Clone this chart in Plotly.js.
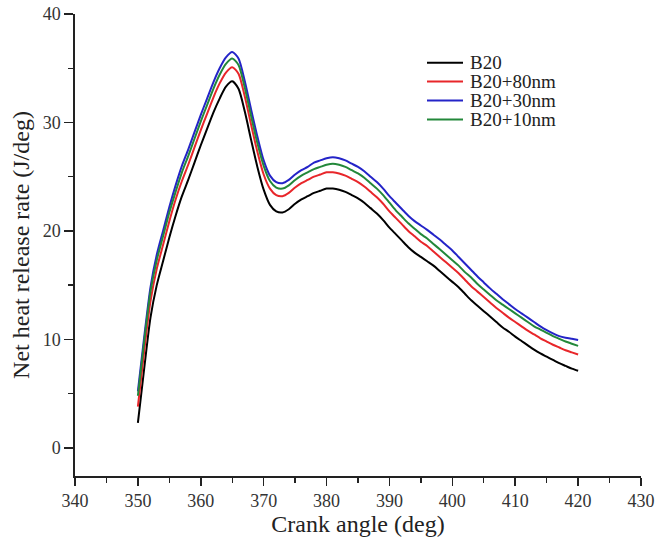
<!DOCTYPE html>
<html>
<head>
<meta charset="utf-8">
<script src="https://cdn.plot.ly/plotly-3.0.1.min.js"></script>
<style>html,body{margin:0;padding:0;background:#fff;}#chart{width:657px;height:543px;}</style>
</head>
<body>
<div id="chart"></div>
<script>
var crankAngle = [350,351,352,353,354,355,356,357,358,359,360,361,362,363,364,365,366,367,368,369,370,371,372,373,374,375,376,377,378,379,380,381,382,383,384,385,386,387,388,389,390,391,392,393,394,395,396,397,398,399,400,401,402,403,404,405,406,407,408,409,410,411,412,413,414,415,416,417,418,419,420];
var seriesNames = ["B20","B20+80nm","B20+30nm","B20+10nm"];
var b20 = [2.3,7.3,12.0,15.0,17.2,19.4,21.4,23.2,24.7,26.3,27.9,29.4,30.9,32.2,33.3,33.8,33.1,31.0,28.4,25.9,23.8,22.4,21.8,21.7,22.0,22.5,22.9,23.2,23.5,23.7,23.9,23.9,23.8,23.6,23.3,23.0,22.6,22.1,21.6,21.0,20.3,19.7,19.1,18.5,18.0,17.6,17.2,16.8,16.3,15.8,15.3,14.8,14.2,13.6,13.1,12.6,12.1,11.6,11.1,10.7,10.25,9.85,9.45,9.05,8.7,8.4,8.1,7.8,7.55,7.3,7.1];
var b20_80nm = [3.8,8.9,13.5,16.5,18.7,20.9,22.9,24.6,26.1,27.7,29.3,30.8,32.3,33.6,34.6,35.1,34.5,32.4,29.8,27.3,25.2,23.9,23.3,23.2,23.5,24.0,24.4,24.7,25.0,25.2,25.4,25.4,25.3,25.1,24.8,24.5,24.1,23.6,23.1,22.5,21.8,21.2,20.6,20.0,19.5,19.0,18.6,18.1,17.6,17.1,16.6,16.1,15.5,14.9,14.4,13.9,13.4,12.9,12.45,12.0,11.6,11.2,10.8,10.45,10.1,9.8,9.5,9.25,9.0,8.8,8.6];
var b20_30nm = [5.2,10.2,14.8,17.8,20.0,22.2,24.2,26.0,27.5,29.1,30.7,32.2,33.7,35.0,36.0,36.5,35.9,33.8,31.2,28.7,26.5,25.1,24.5,24.4,24.7,25.2,25.6,25.9,26.3,26.5,26.7,26.8,26.7,26.5,26.2,25.9,25.5,25.0,24.5,23.9,23.2,22.6,22.0,21.4,20.9,20.5,20.1,19.65,19.2,18.7,18.2,17.6,17.0,16.4,15.8,15.25,14.7,14.2,13.7,13.25,12.8,12.4,12.0,11.6,11.2,10.85,10.55,10.3,10.15,10.05,9.95];
var b20_10nm = [4.8,9.8,14.4,17.3,19.5,21.7,23.6,25.4,26.9,28.5,30.1,31.6,33.1,34.4,35.4,35.9,35.3,33.2,30.6,28.1,26.0,24.6,24.0,23.9,24.2,24.7,25.1,25.4,25.7,25.9,26.1,26.2,26.1,25.9,25.6,25.3,24.9,24.4,23.9,23.3,22.6,21.9,21.3,20.7,20.2,19.7,19.3,18.8,18.3,17.8,17.3,16.8,16.2,15.7,15.1,14.6,14.1,13.6,13.2,12.8,12.4,12.0,11.6,11.2,10.9,10.6,10.3,10.05,9.8,9.6,9.4];
var xTicks = [340,350,360,370,380,390,400,410,420,430];
var yTicks = [0,10,20,30,40];

var colors = ["#000000","#e8262a","#2424c8","#23883a"];
var ff = "Liberation Serif, Times New Roman, serif";
var ys = [b20, b20_80nm, b20_30nm, b20_10nm];
var traces = ys.map(function(y,i){
  return {x: crankAngle, y: y, type:'scatter', mode:'lines', name: seriesNames[i], showlegend:false,
    line:{color:colors[i], width:2, shape:'spline', smoothing:0.7}};
});

// plot area in pixels
var W = 657, H = 543, L = 75, R = 16, T = 14, B = 67;
function px2paperX(px){ return (px - L) / (W - L - R); }
function px2paperY(py){ return (H - B - py) / (H - B - T); }

// manual legend (Origin-style, tight rows)
var shapes = [], annotations = [];
var legTop = 62.7, legStep = 18.9, lineX0 = 427, lineX1 = 463, textX = 468;
seriesNames.forEach(function(n, i){
  var yy = px2paperY(legTop + i*legStep);
  shapes.push({type:'line', xref:'paper', yref:'paper', x0:px2paperX(lineX0), x1:px2paperX(lineX1), y0:yy, y1:yy,
    line:{color:colors[i], width:2}});
  annotations.push({xref:'paper', yref:'paper', x:px2paperX(textX), y:yy, xanchor:'left', yanchor:'middle',
    text:n, showarrow:false, font:{family:ff, size:19, color:'#222'}});
});

var layout = {
  width:W, height:H,
  margin:{l:L, r:R, t:T, b:B},
  paper_bgcolor:'#fff', plot_bgcolor:'#fff',
  font:{family:ff, size:18, color:'#222'},
  showlegend:false,
  shapes:shapes, annotations:annotations,
  xaxis:{range:[340,430], tickvals:xTicks, ticktext:xTicks.map(String), showgrid:false, zeroline:false,
    showline:true, linecolor:'#222', linewidth:1.6, ticks:'outside', ticklen:8, tickwidth:1.5, tickcolor:'#222',
    minor:{dtick:5, tick0:340, ticks:'outside', ticklen:5, tickwidth:1.3, tickcolor:'#222', showgrid:false},
    tickfont:{family:ff, size:18, color:'#333'},
    title:{text:'Crank angle (deg)', font:{family:ff, size:24, color:'#222'}, standoff:2}},
  yaxis:{range:[-2.6,40], tickvals:yTicks, ticktext:yTicks.map(String), showgrid:false, zeroline:false,
    showline:true, linecolor:'#222', linewidth:1.6, ticks:'outside', ticklen:9, tickwidth:1.5, tickcolor:'#222',
    minor:{dtick:5, tick0:0, ticks:'outside', ticklen:5, tickwidth:1.3, tickcolor:'#222', showgrid:false},
    tickfont:{family:ff, size:18, color:'#333'},
    title:{text:'Net heat release rate (J/deg)', font:{family:ff, size:24, color:'#222'}, standoff:6}}
};
Plotly.newPlot('chart', traces, layout, {displayModeBar:false, staticPlot:true});
</script>
</body>
</html>
